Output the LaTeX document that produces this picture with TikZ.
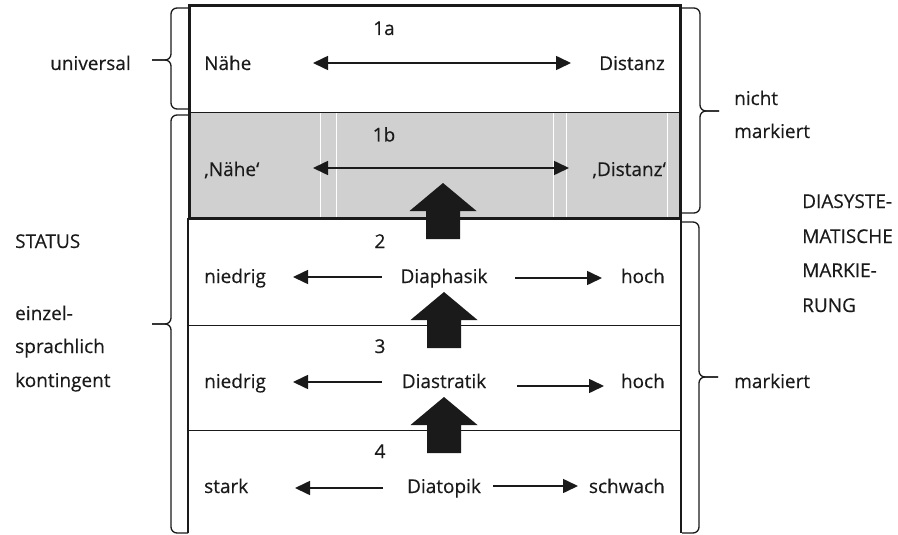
\documentclass[tikz,border=0pt]{standalone}
\usepackage{fontspec}
\setmainfont{Open Sans}[FakeBold=0.35]
\usetikzlibrary{arrows.meta}
\definecolor{ink}{RGB}{26,26,26}
\definecolor{grayfill}{RGB}{208,208,208}
\begin{document}
\begin{tikzpicture}[x=1pt,y=-1pt,
  lbl/.style={inner sep=0pt,font=\fontsize{19}{23}\selectfont,text=ink},
  thinline/.style={line width=1.3pt,draw=ink},
  frame/.style={line width=3pt,draw=ink},
  harrow/.style={line width=1.6pt,draw=ink,-{Triangle[length=15pt,width=14pt]}},
  dharrow/.style={line width=1.6pt,draw=ink,{Triangle[length=15pt,width=14pt]}-{Triangle[length=15pt,width=14pt]}},
  bracepath/.style={line width=1.3pt,draw=ink,rounded corners=6pt},
  bigup/.pic={\fill[ink] (0,0) -- (33.5,28) -- (17,28) -- (17,56) -- (-17,56) -- (-17,28) -- (-33.5,28) -- cycle;}
]
\useasboundingbox (0,0) rectangle (898,535);

% gray band 1b
\fill[grayfill] (189.5,112.5) rectangle (680,218);
\foreach \xx in {320,336,553,566,667}{\draw[white,line width=0.7pt] (\xx,113.5) -- (\xx,216.5);}

% lower box
\draw[thinline] (188,218) -- (188,533);
\draw[thinline] (681,218) -- (681,533);
\draw[thinline] (188,325.5) -- (681,325.5);
\draw[thinline] (188,430.5) -- (681,430.5);
% top frame
\draw[thinline] (189.5,112.5) -- (680,112.5);
\draw[frame] (189.5,6) rectangle (680,218);

% braces
\draw[bracepath] (188,8) -| (171,60) -- (152,60);
\draw[bracepath] (188,109) -| (171,60) -- (152,60);
\draw[bracepath] (188,115) -| (171,324) -- (152,324);
\draw[bracepath] (188,533) -| (171,324) -- (152,324);
\draw[bracepath] (682,8) -| (700,111) -- (719,111);
\draw[bracepath] (682,213) -| (700,111) -- (719,111);
\draw[bracepath] (682,222) -| (699,377) -- (718,377);
\draw[bracepath] (682,533) -| (699,377) -- (718,377);

% left labels
\node[lbl,anchor=base west] (univ) at (50,70) {universal};
\node[lbl,anchor=base west] (status) at (15,248) {STATUS};
\node[lbl,anchor=base west] (einz1) at (15,320) {einzel-};
\node[lbl,anchor=base west] (einz2) at (15,353) {sprachlich};
\node[lbl,anchor=base west] (einz3) at (15,387) {kontingent};

% right labels
\node[lbl,anchor=base west] (nm1) at (734,105) {nicht};
\node[lbl,anchor=base west] (nm2) at (734,138) {markiert};
\node[lbl,anchor=base west] (dia1) at (802,208) {DIASYSTE-};
\node[lbl,anchor=base west] (dia2) at (802,243) {MATISCHE};
\node[lbl,anchor=base west] (dia3) at (802,277) {MARKIE-};
\node[lbl,anchor=base west] (dia4) at (802,312) {RUNG};
\node[lbl,anchor=base west] (mk) at (734,388) {markiert};

% row 1a
\node[lbl,anchor=base] (n1a) at (384,35) {1a};
\node[lbl,anchor=base west] (naehe) at (204,70) {Nähe};
\node[lbl,anchor=base east] (dist) at (665,70) {Distanz};
\coordinate (a1l) at (313,63);
\coordinate (a1r) at (571,63);
\draw[dharrow] (a1l) -- (a1r);

% row 1b
\node[lbl,anchor=base] (n1b) at (384,141.5) {1b};
\node[lbl,anchor=base west] (naehe2) at (204,176) {‚Nähe‘};
\node[lbl,anchor=base east] (dist2) at (666,176) {‚Distanz‘};
\coordinate (b1l) at (313,168);
\coordinate (b1r) at (569,168);
\draw[dharrow] (b1l) -- (b1r);

% row 2
\node[lbl,anchor=base] (n2) at (380,248) {2};
\node[lbl,anchor=base west] (nied2) at (204,283) {niedrig};
\node[lbl,anchor=base] (phas) at (444,283) {Diaphasik};
\node[lbl,anchor=base east] (hoch2) at (665,283) {hoch};
\coordinate (l2s) at (382,277); \coordinate (l2e) at (293,277);
\coordinate (r2s) at (515,278); \coordinate (r2e) at (602,278);
\draw[harrow] (l2s) -- (l2e);
\draw[harrow] (r2s) -- (r2e);

% row 3
\node[lbl,anchor=base] (n3) at (380,353) {3};
\node[lbl,anchor=base west] (nied3) at (204,388) {niedrig};
\node[lbl,anchor=base] (strat) at (444,388) {Diastratik};
\node[lbl,anchor=base east] (hoch3) at (665,388) {hoch};
\coordinate (l3s) at (382,382); \coordinate (l3e) at (293,382);
\coordinate (r3s) at (517,386); \coordinate (r3e) at (604,386);
\draw[harrow] (l3s) -- (l3e);
\draw[harrow] (r3s) -- (r3e);

% row 4
\node[lbl,anchor=base] (n4) at (380,458) {4};
\node[lbl,anchor=base west] (stark) at (204,493) {stark};
\node[lbl,anchor=base] (topik) at (444,493) {Diatopik};
\node[lbl,anchor=base east] (schw) at (665,493) {schwach};
\coordinate (l4s) at (383,488); \coordinate (l4e) at (295,488);
\coordinate (r4s) at (493,486); \coordinate (r4e) at (578,486);
\draw[harrow] (l4s) -- (l4e);
\draw[harrow] (r4s) -- (r4e);

% big upward arrows
\pic at (443,183) {bigup};
\pic at (444,292) {bigup};
\pic at (444,397) {bigup};
\end{tikzpicture}
\end{document}
